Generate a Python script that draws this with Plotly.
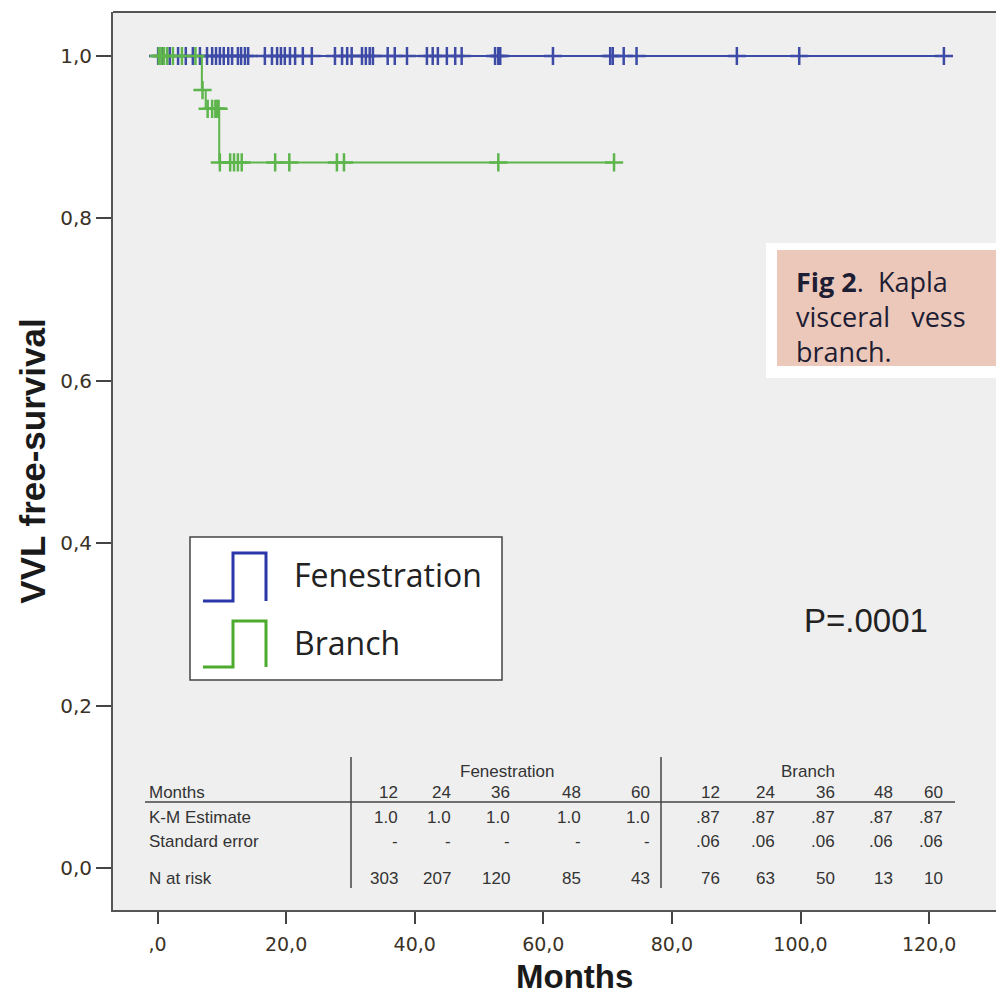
import plotly.graph_objects as go

# ---------------- data ----------------
fen_event_t = [0.0, 122.3]
fen_event_s = [1.0, 1.0]
fen_censor_t = [0.1, 0.7, 1.9, 3.2, 4.4, 5.5, 6.6, 7.7, 8.5, 9.1, 9.7, 10.3, 11.0, 11.6,
                12.5, 13.0, 13.6, 14.1, 16.7, 17.8, 18.6, 19.2, 19.8, 20.6, 21.4, 22.6,
                24.0, 27.6, 28.7, 29.5, 30.2, 31.8, 32.4, 33.0, 33.5, 35.8, 36.9, 38.8,
                41.9, 42.8, 43.6, 45.0, 46.3, 47.3, 52.5, 53.0, 53.3, 61.5, 70.4, 70.8,
                72.5, 74.5, 90.1, 99.8, 122.3]

br_event_t = [0.0, 6.9, 7.5, 9.6, 71.0]
br_event_s = [1.0, 0.958, 0.935, 0.869, 0.869]
br_censor_t = [0.2, 0.6, 1.0, 1.5, 2.4, 3.8, 5.9, 7.0, 7.8, 8.5, 9.0, 9.3, 9.5,
               9.7, 11.3, 11.9, 12.5, 13.1, 18.3, 20.5, 27.9, 29.0, 53.0, 71.0]

x_tickvals = [0, 20, 40, 60, 80, 100, 120]
x_ticktext = [",0", "20,0", "40,0", "60,0", "80,0", "100,0", "120,0"]
y_tickvals = [0.0, 0.2, 0.4, 0.6, 0.8, 1.0]
y_ticktext = ["0,0", "0,2", "0,4", "0,6", "0,8", "1,0"]

table_months = ["12", "24", "36", "48", "60"]
fen_km = ["1.0", "1.0", "1.0", "1.0", "1.0"]
fen_se = ["-", "-", "-", "-", "-"]
fen_n = ["303", "207", "120", "85", "43"]
br_km = [".87", ".87", ".87", ".87", ".87"]
br_se = [".06", ".06", ".06", ".06", ".06"]
br_n = ["76", "63", "50", "13", "10"]


def step_value(ts, ss, t):
    v = ss[0]
    for ti, si in zip(ts, ss):
        if ti <= t:
            v = si
    return v


fen_censor_s = [step_value(fen_event_t, fen_event_s, t) for t in fen_censor_t]
br_censor_s = [step_value(br_event_t, br_event_s, t) for t in br_censor_t]

BLUE = "#3d4aa6"
GREEN = "#5db54c"

W, H = 996, 997
ML, MT, MB, MR = 113, 12, 87, 0
PW, PH = W - ML - MR, H - MT - MB


def px(x):
    return (x - ML) / PW


def py(y):
    return (H - MB - y) / PH


fig = go.Figure()
fig.add_trace(go.Scatter(x=fen_event_t, y=fen_event_s, mode="lines", line=dict(color=BLUE, width=2, shape="hv"),
                         hoverinfo="skip", showlegend=False))
fig.add_trace(go.Scatter(x=fen_censor_t, y=fen_censor_s, mode="markers",
                         marker=dict(symbol="cross-thin", size=13, line=dict(color=BLUE, width=2.5)),
                         showlegend=False))
fig.add_trace(go.Scatter(x=br_event_t, y=br_event_s, mode="lines", line=dict(color=GREEN, width=2, shape="hv"),
                         hoverinfo="skip", showlegend=False))
fig.add_trace(go.Scatter(x=br_censor_t, y=br_censor_s, mode="markers",
                         marker=dict(symbol="cross-thin", size=13, line=dict(color=GREEN, width=2.5)),
                         showlegend=False))

shapes = []
annotations = []

# top border
shapes.append(dict(type="line", xref="paper", yref="paper", x0=0, x1=1.01, y0=1, y1=1,
                   line=dict(color="#555555", width=2)))

# legend box
shapes.append(dict(type="rect", xref="paper", yref="paper", x0=px(190), x1=px(502), y0=py(537), y1=py(680),
                   fillcolor="white", line=dict(color="#444444", width=1.5)))
shapes.append(dict(type="path", xref="paper", yref="paper",
                   path=f"M {px(203)} {py(601)} L {px(233)} {py(601)} L {px(233)} {py(553)} L {px(266)} {py(553)} L {px(266)} {py(601)}",
                   line=dict(color="#2b36a8", width=3)))
shapes.append(dict(type="path", xref="paper", yref="paper",
                   path=f"M {px(203)} {py(667)} L {px(233)} {py(667)} L {px(233)} {py(621)} L {px(266)} {py(621)} L {px(266)} {py(667)}",
                   line=dict(color="#4caa2c", width=3)))
LF = dict(family="Open Sans", size=32, color="#222222")
annotations.append(dict(xref="paper", yref="paper", x=px(292), y=py(574), text="Fenestration", showarrow=False,
                        xanchor="left", yanchor="middle", font=LF))
annotations.append(dict(xref="paper", yref="paper", x=px(292), y=py(642), text="Branch", showarrow=False,
                        xanchor="left", yanchor="middle", font=LF))

# p-value
annotations.append(dict(xref="paper", yref="paper", x=px(866), y=py(620), text="P=.0001", showarrow=False,
                        xanchor="center", yanchor="middle", font=dict(family="Liberation Sans", size=33, color="#222222")))

# caption box
shapes.append(dict(type="rect", xref="paper", yref="paper", x0=px(766), x1=px(1010), y0=py(243), y1=py(378),
                   fillcolor="white", line=dict(width=0)))
shapes.append(dict(type="rect", xref="paper", yref="paper", x0=px(777), x1=px(1010), y0=py(250), y1=py(366),
                   fillcolor="#ecc8ba", line=dict(width=0)))
annotations.append(dict(xref="paper", yref="paper", x=px(794), y=py(316),
                        text="<b>Fig 2</b>.\u00a0\u00a0Kapla<br>visceral\u00a0\u00a0\u00a0vess<br>branch.",
                        showarrow=False, xanchor="left", yanchor="middle", align="left",
                        font=dict(family="Open Sans", size=27, color="#1d1d33")))

# table
TF = dict(family="Liberation Sans", size=17, color="#333333")
shapes.append(dict(type="line", xref="paper", yref="paper", x0=px(145), x1=px(955), y0=py(802), y1=py(802),
                   line=dict(color="#444444", width=1.5)))
for vx in (351, 661):
    shapes.append(dict(type="line", xref="paper", yref="paper", x0=px(vx), x1=px(vx), y0=py(757), y1=py(888),
                       line=dict(color="#444444", width=1.5)))
annotations.append(dict(xref="paper", yref="paper", x=px(507), y=py(771), text="Fenestration", showarrow=False,
                        xanchor="center", yanchor="middle", font=TF))
annotations.append(dict(xref="paper", yref="paper", x=px(808), y=py(771), text="Branch", showarrow=False,
                        xanchor="center", yanchor="middle", font=TF))
row_y = {"Months": 792, "K-M Estimate": 817, "Standard error": 841, "N at risk": 878}
for lbl, yy in row_y.items():
    annotations.append(dict(xref="paper", yref="paper", x=px(147), y=py(yy), text=lbl, showarrow=False,
                            xanchor="left", yanchor="middle", font=TF))
fen_right = [400, 453, 512, 583, 652]
br_right = [722, 777, 837, 895, 945]
for cols, rows in ((fen_right, (table_months, fen_km, fen_se, fen_n)), (br_right, (table_months, br_km, br_se, br_n))):
    for vals, yy in zip(rows, (792, 817, 841, 878)):
        for xr, v in zip(cols, vals):
            annotations.append(dict(xref="paper", yref="paper", x=px(xr), y=py(yy), text=v, showarrow=False,
                                    xanchor="right", yanchor="middle", font=TF))

# x-axis title (centered on the full plot frame, which extends past the right edge)
annotations.append(dict(xref="paper", yref="paper", x=px(574), y=py(976), text="<b>Months</b>", showarrow=False,
                        xanchor="center", yanchor="middle",
                        font=dict(family="Liberation Sans", size=33, color="#1a1a1a")))

fig.update_layout(
    width=W, height=H,
    margin=dict(l=ML, r=MR, t=MT, b=MB, pad=0),
    paper_bgcolor="white",
    plot_bgcolor="#efefef",
    shapes=shapes,
    annotations=annotations,
    xaxis=dict(range=[-6.92, 130.4], tickvals=x_tickvals, ticktext=x_ticktext, showgrid=False, zeroline=False,
               showline=True, linecolor="#555555", linewidth=2, ticks="outside", ticklen=12, tickwidth=2,
               tickcolor="#444444", tickfont=dict(family="DejaVu Sans", size=19, color="#3a3226"),
               ticklabelstandoff=4),
    yaxis=dict(range=[-0.0517, 1.0542], tickvals=y_tickvals, ticktext=y_ticktext, showgrid=False, zeroline=False,
               showline=True, linecolor="#555555", linewidth=2, ticks="outside", ticklen=15, tickwidth=2,
               tickcolor="#444444", tickfont=dict(family="DejaVu Sans", size=20, color="#3a3226"),
               title=dict(text="<b>VVL free-survival</b>", font=dict(family="Liberation Sans", size=35, color="#1a1a1a"),
                          standoff=4)),
)

fig.write_html("out.html")
